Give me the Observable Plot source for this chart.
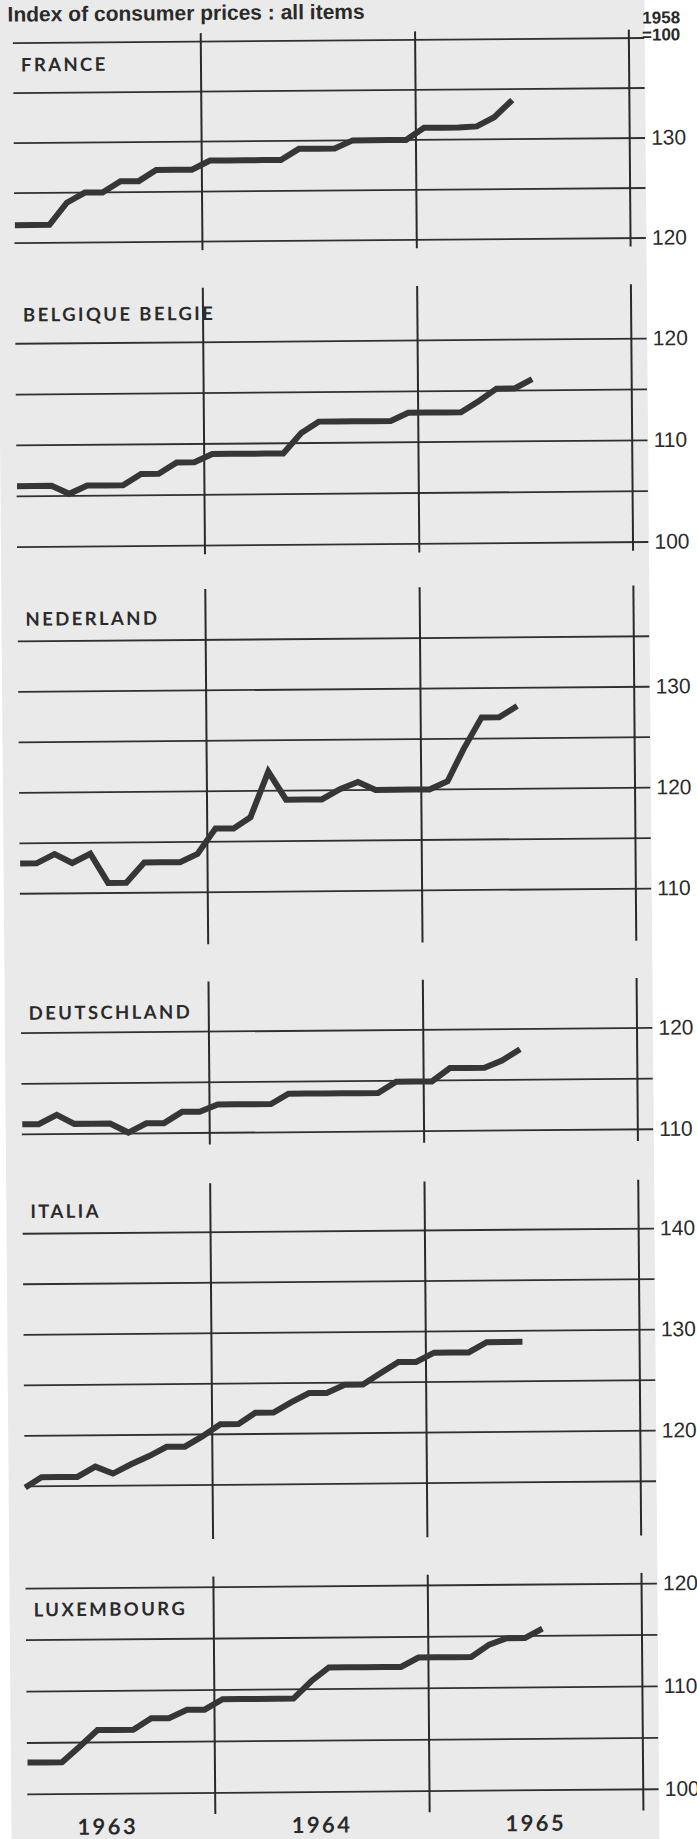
<!DOCTYPE html>
<html><head><meta charset="utf-8">
<script src="https://cdn.jsdelivr.net/npm/d3@7"></script>
<script src="https://cdn.jsdelivr.net/npm/@observablehq/plot@0.6"></script>
<style>
html,body{margin:0;padding:0;background:#fff;width:697px;height:1839px;overflow:hidden;}
#page{position:absolute;left:0;top:0;width:697px;height:1839px;transform:rotate(-0.47deg);transform-origin:330px 920px;}
#paper{position:absolute;left:4px;top:-30px;width:648px;height:1900px;background:#eaeaea;}
#title{position:absolute;left:15px;top:1px;font:bold 21px/21px "Liberation Sans",Arial,sans-serif;color:#2a2a2a;white-space:nowrap;}
.panel{position:absolute;left:0;}
.panel svg{overflow:visible;}
</style></head><body>
<div id="page"><div id="paper"></div><div id="title">Index of consumer prices : all items</div></div>
<script>
// Months (monthly index values, plotted mid-month)
const months = ["1963-02","1963-03","1963-04","1963-05","1963-06","1963-07","1963-08","1963-09","1963-10","1963-11","1963-12",
  "1964-01","1964-02","1964-03","1964-04","1964-05","1964-06","1964-07","1964-08","1964-09","1964-10","1964-11","1964-12",
  "1965-01","1965-02","1965-03","1965-04","1965-05","1965-06","1965-07"];
const years = ["1963","1964","1965"];
const yearEnds = ["1964-01-01","1965-01-01","1966-01-01"];
const baseNote = ["1958", "=100"];

// Index of consumer prices, 1958 = 100
const france      = [121.8,121.8,121.8,124.0,125.0,125.0,126.1,126.1,127.2,127.2,127.2,128.1,128.1,128.1,128.1,128.1,129.2,129.2,129.2,130.0,130.0,130.0,130.0,131.2,131.2,131.2,131.3,132.2,133.9];
const belgique    = [106.0,106.0,106.0,105.2,106.0,106.0,106.0,107.1,107.1,108.2,108.2,109.0,109.0,109.0,109.0,109.0,111.0,112.1,112.1,112.1,112.1,112.1,112.9,112.9,112.9,112.9,114.0,115.2,115.2,116.1];
const nederland   = [113.0,113.0,113.9,113.0,113.9,111.0,111.0,113.0,113.0,113.0,113.8,116.3,116.3,117.4,121.9,119.1,119.1,119.1,120.1,120.8,120.0,120.0,120.0,120.0,120.8,124.0,127.1,127.1,128.2];
const deutschland = [111.0,111.0,111.9,111.0,111.0,111.0,110.1,111.0,111.0,112.1,112.1,112.8,112.8,112.8,112.8,113.8,113.8,113.8,113.8,113.8,113.8,114.9,114.9,114.9,116.2,116.2,116.2,116.9,118.0];
const italia      = [114.9,115.9,115.9,115.9,116.9,116.2,117.1,117.9,118.8,118.8,119.8,121.0,121.0,122.1,122.1,123.1,124.0,124.0,124.8,124.8,125.9,127.0,127.0,127.9,127.9,127.9,128.9,128.9,128.9];
const luxembourg  = [103.1,103.1,103.1,104.6,106.2,106.2,106.2,107.3,107.3,108.1,108.1,109.1,109.1,109.1,109.1,109.1,110.8,112.1,112.1,112.1,112.1,112.1,113.0,113.0,113.0,113.0,114.2,114.8,114.8,115.7];

// Grid values and tick labels per panel
const franceGrid = [120,125,130,135,140],      franceTicks = [120,130];
const belgiqueGrid = [100,105,110,115,120],    belgiqueTicks = [100,110,120];
const nederlandGrid = [110,115,120,125,130,135], nederlandTicks = [110,120,130];
const deutschlandGrid = [110,115,120],         deutschlandTicks = [110,120];
const italiaGrid = [115,120,125,130,135,140],  italiaTicks = [120,130,140];
const luxembourgGrid = [100,105,110,115,120],  luxembourgTicks = [100,110,120];

const midMonth = s => { const [y,m] = s.split("-").map(Number); return new Date(Date.UTC(y, m-1, 15)); };
const day = s => new Date(s + "T00:00:00Z");

// layout (pixels) for each panel
const panels = [
  {name:"FRANCE", values:france, grid:franceGrid, ticks:franceTicks, top:0, height:270, range:[240.1,40.1], labelY:62.5, vExt:[119.1,140.8], base:true},
  {name:"BELGIQUE BELGIE", values:belgique, grid:belgiqueGrid, ticks:belgiqueTicks, top:270, height:300, range:[274.1,70.7], labelY:42.5, vExt:[99.1,125.3]},
  {name:"NEDERLAND", values:nederland, grid:nederlandGrid, ticks:nederlandTicks, top:570, height:390, range:[320.7,68.4], labelY:46.8, vExt:[104.8,140.0]},
  {name:"DEUTSCHLAND", values:deutschland, grid:deutschlandGrid, ticks:deutschlandTicks, top:960, height:200, range:[171.4,70.1], labelY:50.8, vExt:[108.8,124.9]},
  {name:"ITALIA", values:italia, grid:italiaGrid, ticks:italiaTicks, top:1160, height:400, range:[323.4,70.7], labelY:49.2, vExt:[109.6,144.8]},
  {name:"LUXEMBOURG", values:luxembourg, grid:luxembourgGrid, ticks:luxembourgTicks, top:1560, height:279, range:[231.4,25.7], labelY:47.5, vExt:[97.9,121.0], years:true, yearsY:265}
];

const page = document.getElementById("page");
const gridFrom = midMonth(months[0]);
const gridTo = day("1966-01-28");

for (const p of panels) {
  const data = p.values.map((v,i) => ({date: midMonth(months[i]), value: v}));
  const marks = [
    Plot.ruleY(p.grid, {x1: gridFrom, x2: gridTo, stroke:"#303030", strokeWidth:1.8}),
    Plot.ruleX(yearEnds.map(day), {y1: p.vExt[0], y2: p.vExt[1], stroke:"#2a2a2a", strokeWidth:2}),
    Plot.axisY(p.ticks, {anchor:"right", tickSize:0, tickPadding:5, label:null, fontSize:21, fontFamily:"'Liberation Sans', Arial, sans-serif", fill:"#2a2a2a"}),
    Plot.lineY(data, {x:"date", y:"value", stroke:"#363636", strokeWidth:6, strokeLinejoin:"miter", strokeLinecap:"butt", strokeMiterlimit:4}),
    Plot.text([p.name], {frameAnchor:"top-left", textAnchor:"start", lineAnchor:"middle", fontSize:18.5, fontWeight:"bold", fontFamily:"Lato, sans-serif", fill:"#2a2a2a"})
  ];
  if (p.base) {
    const noteFont = {frameAnchor:"top-right", textAnchor:"end", lineAnchor:"top", dx:35, fontSize:17, fontWeight:"bold", fontFamily:"'Liberation Sans', Arial, sans-serif", fill:"#2a2a2a"};
    marks.push(Plot.text([baseNote[0]], {...noteFont, dy: 13.5 - p.labelY}));
    marks.push(Plot.text([baseNote[1]], {...noteFont, dy: 30.5 - p.labelY}));
  }
  if (p.years) {
    marks.push(Plot.text(years, {x: d => day(d + "-07-01"), frameAnchor:"bottom", lineAnchor:"middle", textAnchor:"middle", fontSize:22, fontWeight:"bold", fontFamily:"Lato, sans-serif", fill:"#2a2a2a"}));
  }
  const svg = Plot.plot({
    width: 697, height: p.height,
    marginLeft: 27.5, marginRight: 45, marginTop: p.labelY, marginBottom: p.years ? p.height - p.yearsY : 0,
    x: {type:"utc", domain:[day("1963-01-01"), day("1966-01-01")], range:[-6.26, 635.6], axis:null},
    y: {domain:[p.grid[0], p.grid[p.grid.length-1]], range:p.range, axis:null},
    style: {background:"transparent", overflow:"visible"},
    marks
  });
  d3.select(svg).selectAll("g[aria-label='text'] text")
    .filter(function() { return p.name === this.textContent || years.includes(this.textContent); })
    .attr("letter-spacing", "2.4px");
  const wrap = document.createElement("div");
  wrap.className = "panel";
  wrap.style.top = p.top + "px";
  wrap.appendChild(svg);
  page.appendChild(wrap);
}
</script>
</body></html>
